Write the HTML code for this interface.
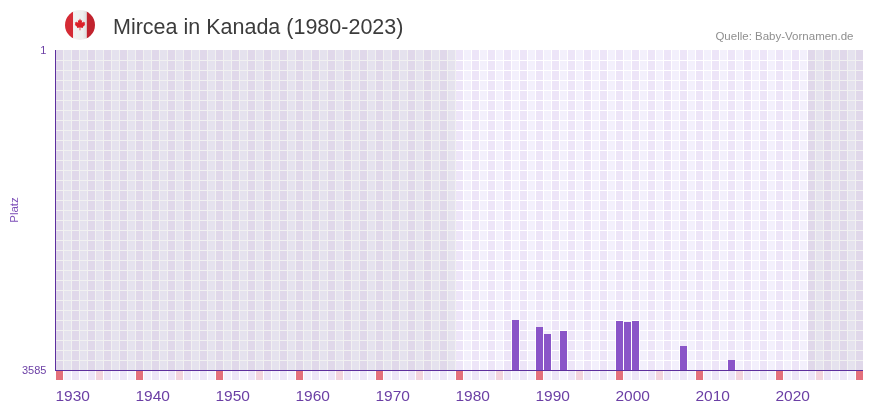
<!DOCTYPE html>
<html><head><meta charset="utf-8"><style>
html,body{margin:0;padding:0;background:#fff;}
body{width:873px;height:412px;overflow:hidden;position:relative;font-family:"Liberation Sans",sans-serif;}
.g{will-change:transform;}
.chart{position:absolute;left:0;top:0;}
.flag{position:absolute;left:65px;top:10px;}
.title{position:absolute;left:113px;top:15px;font-size:21.5px;line-height:24px;color:#3c3c3c;white-space:nowrap;}
.src{position:absolute;right:19.5px;top:29px;font-size:11.5px;line-height:14px;color:#8f8f8f;white-space:nowrap;}
.yl{position:absolute;font-size:11px;line-height:12px;color:#6b3fa5;text-align:right;width:40px;white-space:nowrap;}
.xl{position:absolute;top:386.8px;font-size:15.5px;line-height:17px;color:#6b3fa5;white-space:nowrap;}
.platz{position:absolute;left:14px;top:210px;font-size:11.5px;line-height:12px;color:#7d4fb8;transform:translate(-50%,-50%) rotate(-90deg);white-space:nowrap;}
</style></head><body>
<svg class="chart" width="873" height="412" viewBox="0 0 873 412" shape-rendering="crispEdges">
<rect x="56" y="50" width="7" height="320" fill="#ede5f8"/>
<rect x="64" y="50" width="7" height="320" fill="#f3f0fc"/>
<rect x="72" y="50" width="7" height="320" fill="#ede5f8"/>
<rect x="80" y="50" width="7" height="320" fill="#f3f0fc"/>
<rect x="88" y="50" width="7" height="320" fill="#ede5f8"/>
<rect x="96" y="50" width="7" height="320" fill="#f3f0fc"/>
<rect x="104" y="50" width="7" height="320" fill="#ede5f8"/>
<rect x="112" y="50" width="7" height="320" fill="#f3f0fc"/>
<rect x="120" y="50" width="7" height="320" fill="#ede5f8"/>
<rect x="128" y="50" width="7" height="320" fill="#f3f0fc"/>
<rect x="136" y="50" width="7" height="320" fill="#ede5f8"/>
<rect x="144" y="50" width="7" height="320" fill="#f3f0fc"/>
<rect x="152" y="50" width="7" height="320" fill="#ede5f8"/>
<rect x="160" y="50" width="7" height="320" fill="#f3f0fc"/>
<rect x="168" y="50" width="7" height="320" fill="#ede5f8"/>
<rect x="176" y="50" width="7" height="320" fill="#f3f0fc"/>
<rect x="184" y="50" width="7" height="320" fill="#ede5f8"/>
<rect x="192" y="50" width="7" height="320" fill="#f3f0fc"/>
<rect x="200" y="50" width="7" height="320" fill="#ede5f8"/>
<rect x="208" y="50" width="7" height="320" fill="#f3f0fc"/>
<rect x="216" y="50" width="7" height="320" fill="#ede5f8"/>
<rect x="224" y="50" width="7" height="320" fill="#f3f0fc"/>
<rect x="232" y="50" width="7" height="320" fill="#ede5f8"/>
<rect x="240" y="50" width="7" height="320" fill="#f3f0fc"/>
<rect x="248" y="50" width="7" height="320" fill="#ede5f8"/>
<rect x="256" y="50" width="7" height="320" fill="#f3f0fc"/>
<rect x="264" y="50" width="7" height="320" fill="#ede5f8"/>
<rect x="272" y="50" width="7" height="320" fill="#f3f0fc"/>
<rect x="280" y="50" width="7" height="320" fill="#ede5f8"/>
<rect x="288" y="50" width="7" height="320" fill="#f3f0fc"/>
<rect x="296" y="50" width="7" height="320" fill="#ede5f8"/>
<rect x="304" y="50" width="7" height="320" fill="#f3f0fc"/>
<rect x="312" y="50" width="7" height="320" fill="#ede5f8"/>
<rect x="320" y="50" width="7" height="320" fill="#f3f0fc"/>
<rect x="328" y="50" width="7" height="320" fill="#ede5f8"/>
<rect x="336" y="50" width="7" height="320" fill="#f3f0fc"/>
<rect x="344" y="50" width="7" height="320" fill="#ede5f8"/>
<rect x="352" y="50" width="7" height="320" fill="#f3f0fc"/>
<rect x="360" y="50" width="7" height="320" fill="#ede5f8"/>
<rect x="368" y="50" width="7" height="320" fill="#f3f0fc"/>
<rect x="376" y="50" width="7" height="320" fill="#ede5f8"/>
<rect x="384" y="50" width="7" height="320" fill="#f3f0fc"/>
<rect x="392" y="50" width="7" height="320" fill="#ede5f8"/>
<rect x="400" y="50" width="7" height="320" fill="#f3f0fc"/>
<rect x="408" y="50" width="7" height="320" fill="#ede5f8"/>
<rect x="416" y="50" width="7" height="320" fill="#f3f0fc"/>
<rect x="424" y="50" width="7" height="320" fill="#ede5f8"/>
<rect x="432" y="50" width="7" height="320" fill="#f3f0fc"/>
<rect x="440" y="50" width="7" height="320" fill="#ede5f8"/>
<rect x="448" y="50" width="7" height="320" fill="#f3f0fc"/>
<rect x="456" y="50" width="7" height="320" fill="#ede5f8"/>
<rect x="464" y="50" width="7" height="320" fill="#f3f0fc"/>
<rect x="472" y="50" width="7" height="320" fill="#ede5f8"/>
<rect x="480" y="50" width="7" height="320" fill="#f3f0fc"/>
<rect x="488" y="50" width="7" height="320" fill="#ede5f8"/>
<rect x="496" y="50" width="7" height="320" fill="#f3f0fc"/>
<rect x="504" y="50" width="7" height="320" fill="#ede5f8"/>
<rect x="512" y="50" width="7" height="320" fill="#f3f0fc"/>
<rect x="520" y="50" width="7" height="320" fill="#ede5f8"/>
<rect x="528" y="50" width="7" height="320" fill="#f3f0fc"/>
<rect x="536" y="50" width="7" height="320" fill="#ede5f8"/>
<rect x="544" y="50" width="7" height="320" fill="#f3f0fc"/>
<rect x="552" y="50" width="7" height="320" fill="#ede5f8"/>
<rect x="560" y="50" width="7" height="320" fill="#f3f0fc"/>
<rect x="568" y="50" width="7" height="320" fill="#ede5f8"/>
<rect x="576" y="50" width="7" height="320" fill="#f3f0fc"/>
<rect x="584" y="50" width="7" height="320" fill="#ede5f8"/>
<rect x="592" y="50" width="7" height="320" fill="#f3f0fc"/>
<rect x="600" y="50" width="7" height="320" fill="#ede5f8"/>
<rect x="608" y="50" width="7" height="320" fill="#f3f0fc"/>
<rect x="616" y="50" width="7" height="320" fill="#ede5f8"/>
<rect x="624" y="50" width="7" height="320" fill="#f3f0fc"/>
<rect x="632" y="50" width="7" height="320" fill="#ede5f8"/>
<rect x="640" y="50" width="7" height="320" fill="#f3f0fc"/>
<rect x="648" y="50" width="7" height="320" fill="#ede5f8"/>
<rect x="656" y="50" width="7" height="320" fill="#f3f0fc"/>
<rect x="664" y="50" width="7" height="320" fill="#ede5f8"/>
<rect x="672" y="50" width="7" height="320" fill="#f3f0fc"/>
<rect x="680" y="50" width="7" height="320" fill="#ede5f8"/>
<rect x="688" y="50" width="7" height="320" fill="#f3f0fc"/>
<rect x="696" y="50" width="7" height="320" fill="#ede5f8"/>
<rect x="704" y="50" width="7" height="320" fill="#f3f0fc"/>
<rect x="712" y="50" width="7" height="320" fill="#ede5f8"/>
<rect x="720" y="50" width="7" height="320" fill="#f3f0fc"/>
<rect x="728" y="50" width="7" height="320" fill="#ede5f8"/>
<rect x="736" y="50" width="7" height="320" fill="#f3f0fc"/>
<rect x="744" y="50" width="7" height="320" fill="#ede5f8"/>
<rect x="752" y="50" width="7" height="320" fill="#f3f0fc"/>
<rect x="760" y="50" width="7" height="320" fill="#ede5f8"/>
<rect x="768" y="50" width="7" height="320" fill="#f3f0fc"/>
<rect x="776" y="50" width="7" height="320" fill="#ede5f8"/>
<rect x="784" y="50" width="7" height="320" fill="#f3f0fc"/>
<rect x="792" y="50" width="7" height="320" fill="#ede5f8"/>
<rect x="800" y="50" width="7" height="320" fill="#f3f0fc"/>
<rect x="808" y="50" width="7" height="320" fill="#ede5f8"/>
<rect x="816" y="50" width="7" height="320" fill="#f3f0fc"/>
<rect x="824" y="50" width="7" height="320" fill="#ede5f8"/>
<rect x="832" y="50" width="7" height="320" fill="#f3f0fc"/>
<rect x="840" y="50" width="7" height="320" fill="#ede5f8"/>
<rect x="848" y="50" width="7" height="320" fill="#f3f0fc"/>
<rect x="856" y="50" width="7" height="320" fill="#ede5f8"/>
<rect x="56" y="60" width="807" height="1" fill="#fff"/>
<rect x="56" y="70" width="807" height="1" fill="#fff"/>
<rect x="56" y="80" width="807" height="1" fill="#fff"/>
<rect x="56" y="90" width="807" height="1" fill="#fff"/>
<rect x="56" y="100" width="807" height="1" fill="#fff"/>
<rect x="56" y="110" width="807" height="1" fill="#fff"/>
<rect x="56" y="120" width="807" height="1" fill="#fff"/>
<rect x="56" y="130" width="807" height="1" fill="#fff"/>
<rect x="56" y="140" width="807" height="1" fill="#fff"/>
<rect x="56" y="150" width="807" height="1" fill="#fff"/>
<rect x="56" y="160" width="807" height="1" fill="#fff"/>
<rect x="56" y="170" width="807" height="1" fill="#fff"/>
<rect x="56" y="180" width="807" height="1" fill="#fff"/>
<rect x="56" y="190" width="807" height="1" fill="#fff"/>
<rect x="56" y="200" width="807" height="1" fill="#fff"/>
<rect x="56" y="210" width="807" height="1" fill="#fff"/>
<rect x="56" y="220" width="807" height="1" fill="#fff"/>
<rect x="56" y="230" width="807" height="1" fill="#fff"/>
<rect x="56" y="240" width="807" height="1" fill="#fff"/>
<rect x="56" y="250" width="807" height="1" fill="#fff"/>
<rect x="56" y="260" width="807" height="1" fill="#fff"/>
<rect x="56" y="270" width="807" height="1" fill="#fff"/>
<rect x="56" y="280" width="807" height="1" fill="#fff"/>
<rect x="56" y="290" width="807" height="1" fill="#fff"/>
<rect x="56" y="300" width="807" height="1" fill="#fff"/>
<rect x="56" y="310" width="807" height="1" fill="#fff"/>
<rect x="56" y="320" width="807" height="1" fill="#fff"/>
<rect x="56" y="330" width="807" height="1" fill="#fff"/>
<rect x="56" y="340" width="807" height="1" fill="#fff"/>
<rect x="56" y="350" width="807" height="1" fill="#fff"/>
<rect x="56" y="360" width="807" height="1" fill="#fff"/>
<rect x="55" y="50" width="400.5" height="320" fill="#000" fill-opacity="0.055"/>
<rect x="807.5" y="50" width="55.5" height="320" fill="#000" fill-opacity="0.055"/>
<rect x="512" y="320" width="7" height="50" fill="#8a55c8"/>
<rect x="536" y="327" width="7" height="43" fill="#8a55c8"/>
<rect x="544" y="334" width="7" height="36" fill="#8a55c8"/>
<rect x="560" y="331" width="7" height="39" fill="#8a55c8"/>
<rect x="616" y="321" width="7" height="49" fill="#8a55c8"/>
<rect x="624" y="322" width="7" height="48" fill="#8a55c8"/>
<rect x="632" y="321" width="7" height="49" fill="#8a55c8"/>
<rect x="680" y="346" width="7" height="24" fill="#8a55c8"/>
<rect x="728" y="360" width="7" height="10" fill="#8a55c8"/>
<rect x="56" y="371" width="7" height="9" fill="#e4707c"/>
<rect x="64" y="371" width="7" height="9" fill="#f3f0fc"/>
<rect x="72" y="371" width="7" height="9" fill="#ede5f8"/>
<rect x="80" y="371" width="7" height="9" fill="#f3f0fc"/>
<rect x="88" y="371" width="7" height="9" fill="#ede5f8"/>
<rect x="96" y="371" width="7" height="9" fill="#f3d4de"/>
<rect x="104" y="371" width="7" height="9" fill="#ede5f8"/>
<rect x="112" y="371" width="7" height="9" fill="#f3f0fc"/>
<rect x="120" y="371" width="7" height="9" fill="#ede5f8"/>
<rect x="128" y="371" width="7" height="9" fill="#f3f0fc"/>
<rect x="136" y="371" width="7" height="9" fill="#e4707c"/>
<rect x="144" y="371" width="7" height="9" fill="#f3f0fc"/>
<rect x="152" y="371" width="7" height="9" fill="#ede5f8"/>
<rect x="160" y="371" width="7" height="9" fill="#f3f0fc"/>
<rect x="168" y="371" width="7" height="9" fill="#ede5f8"/>
<rect x="176" y="371" width="7" height="9" fill="#f3d4de"/>
<rect x="184" y="371" width="7" height="9" fill="#ede5f8"/>
<rect x="192" y="371" width="7" height="9" fill="#f3f0fc"/>
<rect x="200" y="371" width="7" height="9" fill="#ede5f8"/>
<rect x="208" y="371" width="7" height="9" fill="#f3f0fc"/>
<rect x="216" y="371" width="7" height="9" fill="#e4707c"/>
<rect x="224" y="371" width="7" height="9" fill="#f3f0fc"/>
<rect x="232" y="371" width="7" height="9" fill="#ede5f8"/>
<rect x="240" y="371" width="7" height="9" fill="#f3f0fc"/>
<rect x="248" y="371" width="7" height="9" fill="#ede5f8"/>
<rect x="256" y="371" width="7" height="9" fill="#f3d4de"/>
<rect x="264" y="371" width="7" height="9" fill="#ede5f8"/>
<rect x="272" y="371" width="7" height="9" fill="#f3f0fc"/>
<rect x="280" y="371" width="7" height="9" fill="#ede5f8"/>
<rect x="288" y="371" width="7" height="9" fill="#f3f0fc"/>
<rect x="296" y="371" width="7" height="9" fill="#e4707c"/>
<rect x="304" y="371" width="7" height="9" fill="#f3f0fc"/>
<rect x="312" y="371" width="7" height="9" fill="#ede5f8"/>
<rect x="320" y="371" width="7" height="9" fill="#f3f0fc"/>
<rect x="328" y="371" width="7" height="9" fill="#ede5f8"/>
<rect x="336" y="371" width="7" height="9" fill="#f3d4de"/>
<rect x="344" y="371" width="7" height="9" fill="#ede5f8"/>
<rect x="352" y="371" width="7" height="9" fill="#f3f0fc"/>
<rect x="360" y="371" width="7" height="9" fill="#ede5f8"/>
<rect x="368" y="371" width="7" height="9" fill="#f3f0fc"/>
<rect x="376" y="371" width="7" height="9" fill="#e4707c"/>
<rect x="384" y="371" width="7" height="9" fill="#f3f0fc"/>
<rect x="392" y="371" width="7" height="9" fill="#ede5f8"/>
<rect x="400" y="371" width="7" height="9" fill="#f3f0fc"/>
<rect x="408" y="371" width="7" height="9" fill="#ede5f8"/>
<rect x="416" y="371" width="7" height="9" fill="#f3d4de"/>
<rect x="424" y="371" width="7" height="9" fill="#ede5f8"/>
<rect x="432" y="371" width="7" height="9" fill="#f3f0fc"/>
<rect x="440" y="371" width="7" height="9" fill="#ede5f8"/>
<rect x="448" y="371" width="7" height="9" fill="#f3f0fc"/>
<rect x="456" y="371" width="7" height="9" fill="#e4707c"/>
<rect x="464" y="371" width="7" height="9" fill="#f3f0fc"/>
<rect x="472" y="371" width="7" height="9" fill="#ede5f8"/>
<rect x="480" y="371" width="7" height="9" fill="#f3f0fc"/>
<rect x="488" y="371" width="7" height="9" fill="#ede5f8"/>
<rect x="496" y="371" width="7" height="9" fill="#f3d4de"/>
<rect x="504" y="371" width="7" height="9" fill="#ede5f8"/>
<rect x="512" y="371" width="7" height="9" fill="#f3f0fc"/>
<rect x="520" y="371" width="7" height="9" fill="#ede5f8"/>
<rect x="528" y="371" width="7" height="9" fill="#f3f0fc"/>
<rect x="536" y="371" width="7" height="9" fill="#e4707c"/>
<rect x="544" y="371" width="7" height="9" fill="#f3f0fc"/>
<rect x="552" y="371" width="7" height="9" fill="#ede5f8"/>
<rect x="560" y="371" width="7" height="9" fill="#f3f0fc"/>
<rect x="568" y="371" width="7" height="9" fill="#ede5f8"/>
<rect x="576" y="371" width="7" height="9" fill="#f3d4de"/>
<rect x="584" y="371" width="7" height="9" fill="#ede5f8"/>
<rect x="592" y="371" width="7" height="9" fill="#f3f0fc"/>
<rect x="600" y="371" width="7" height="9" fill="#ede5f8"/>
<rect x="608" y="371" width="7" height="9" fill="#f3f0fc"/>
<rect x="616" y="371" width="7" height="9" fill="#e4707c"/>
<rect x="624" y="371" width="7" height="9" fill="#f3f0fc"/>
<rect x="632" y="371" width="7" height="9" fill="#ede5f8"/>
<rect x="640" y="371" width="7" height="9" fill="#f3f0fc"/>
<rect x="648" y="371" width="7" height="9" fill="#ede5f8"/>
<rect x="656" y="371" width="7" height="9" fill="#f3d4de"/>
<rect x="664" y="371" width="7" height="9" fill="#ede5f8"/>
<rect x="672" y="371" width="7" height="9" fill="#f3f0fc"/>
<rect x="680" y="371" width="7" height="9" fill="#ede5f8"/>
<rect x="688" y="371" width="7" height="9" fill="#f3f0fc"/>
<rect x="696" y="371" width="7" height="9" fill="#e4707c"/>
<rect x="704" y="371" width="7" height="9" fill="#f3f0fc"/>
<rect x="712" y="371" width="7" height="9" fill="#ede5f8"/>
<rect x="720" y="371" width="7" height="9" fill="#f3f0fc"/>
<rect x="728" y="371" width="7" height="9" fill="#ede5f8"/>
<rect x="736" y="371" width="7" height="9" fill="#f3d4de"/>
<rect x="744" y="371" width="7" height="9" fill="#ede5f8"/>
<rect x="752" y="371" width="7" height="9" fill="#f3f0fc"/>
<rect x="760" y="371" width="7" height="9" fill="#ede5f8"/>
<rect x="768" y="371" width="7" height="9" fill="#f3f0fc"/>
<rect x="776" y="371" width="7" height="9" fill="#e4707c"/>
<rect x="784" y="371" width="7" height="9" fill="#f3f0fc"/>
<rect x="792" y="371" width="7" height="9" fill="#ede5f8"/>
<rect x="800" y="371" width="7" height="9" fill="#f3f0fc"/>
<rect x="808" y="371" width="7" height="9" fill="#ede5f8"/>
<rect x="816" y="371" width="7" height="9" fill="#f3d4de"/>
<rect x="824" y="371" width="7" height="9" fill="#ede5f8"/>
<rect x="832" y="371" width="7" height="9" fill="#f3f0fc"/>
<rect x="840" y="371" width="7" height="9" fill="#ede5f8"/>
<rect x="848" y="371" width="7" height="9" fill="#f3f0fc"/>
<rect x="856" y="371" width="7" height="9" fill="#e4707c"/>
<rect x="55" y="50" width="1" height="321" fill="#5d2f9e"/>
<rect x="55" y="370" width="808" height="1" fill="#5d2f9e"/>
</svg>
<svg class="flag" width="30" height="30" viewBox="0 0 30 30">
<defs><clipPath id="cc"><circle cx="15" cy="15" r="15"/></clipPath>
<linearGradient id="wg" x1="0" x2="1"><stop offset="0" stop-color="#f2f2f2"/><stop offset="0.7" stop-color="#efefef"/><stop offset="1" stop-color="#dcdcdc"/></linearGradient></defs>
<g clip-path="url(#cc)">
<rect x="0" y="0" width="8.2" height="30" fill="#d52b35"/>
<rect x="8.2" y="0" width="13.6" height="30" fill="url(#wg)"/>
<rect x="21.8" y="0" width="8.2" height="30" fill="#c1232e"/>
<path d="M15 8.6 L16.2 10.9 L17.6 10.2 L17.2 13.6 L19.1 11.8 L19.6 13 L21.3 12.7 L20.6 14.9 L21.4 15.3 L18.4 17.8 L18.8 19 L15.4 18.6 L15.5 21.6 L14.5 21.6 L14.6 18.6 L11.2 19 L11.6 17.8 L8.6 15.3 L9.4 14.9 L8.7 12.7 L10.4 13 L10.9 11.8 L12.8 13.6 L12.4 10.2 L13.8 10.9 Z" fill="#dc1f28" transform="translate(15 8.6) scale(0.82 0.9) translate(-15 -8.6)"/>
</g></svg>
<div class="g" style="position:absolute;left:0;top:0;width:873px;height:412px">
<div class="title">Mircea in Kanada (1980-2023)</div>
<div class="src">Quelle: Baby-Vornamen.de</div>
<div class="yl" style="left:6.4px;top:44px">1</div>
<div class="yl" style="left:6.4px;top:364px">3585</div>
<div class="platz">Platz</div>
<div class="xl" style="left:55.5px">1930</div>
<div class="xl" style="left:135.5px">1940</div>
<div class="xl" style="left:215.5px">1950</div>
<div class="xl" style="left:295.5px">1960</div>
<div class="xl" style="left:375.5px">1970</div>
<div class="xl" style="left:455.5px">1980</div>
<div class="xl" style="left:535.5px">1990</div>
<div class="xl" style="left:615.5px">2000</div>
<div class="xl" style="left:695.5px">2010</div>
<div class="xl" style="left:775.5px">2020</div>
</div>
</body></html>
